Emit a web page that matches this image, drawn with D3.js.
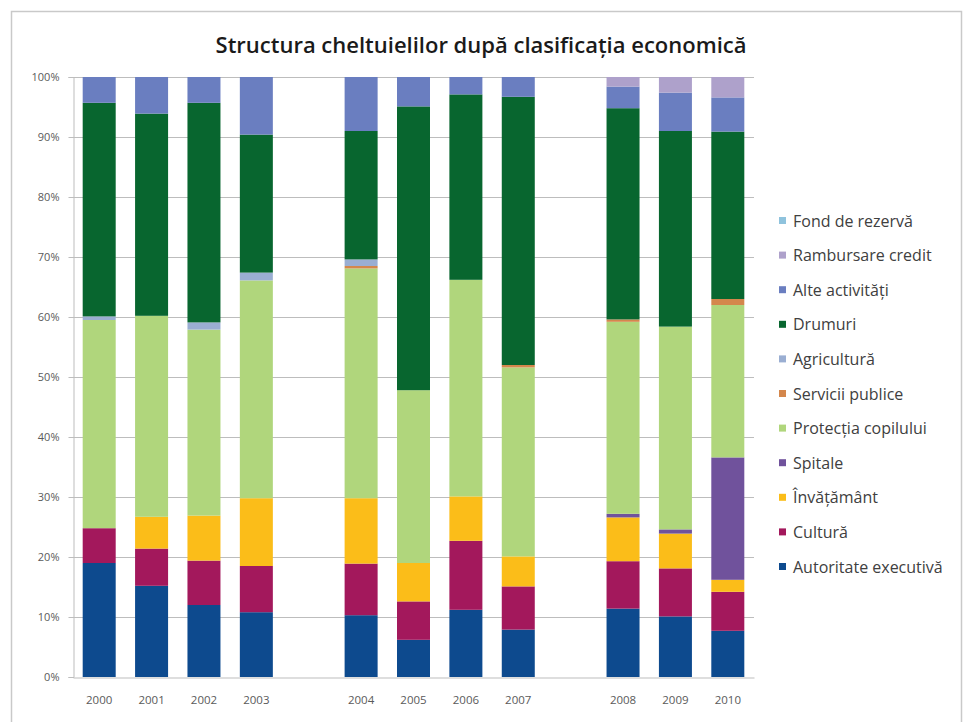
<!DOCTYPE html>
<html>
<head>
<meta charset="utf-8">
<script src="https://cdn.jsdelivr.net/npm/d3@7"></script>
<style>
  html, body { margin: 0; padding: 0; background: #fff; }
  svg { display: block; }
</style>
</head>
<body>
<svg id="chart" width="966" height="722"></svg>
<script>
const years = ["2000","2001","2002","2003","2004","2005","2006","2007","2008","2009","2010"];
const slots = ["2000","2001","2002","2003","gap1","2004","2005","2006","2007","gap2","2008","2009","2010"];
const seriesNames = ["Autoritate executivă","Cultură","Învățământ","Spitale","Protecția copilului","Servicii publice","Agricultură","Drumuri","Alte activități","Rambursare credit","Fond de rezervă"];
const seriesColors = ["#0d4a8e","#a3185c","#fbbd19","#70529c","#b0d67c","#d4874c","#9aaed2","#08662f","#6a7ec0","#aea1cb","#8fc3dd"];

const autoritate = [19.0, 15.2, 12.0, 10.8, 10.3, 6.2, 11.2, 7.9, 11.4, 10.1, 7.7];
const cultura    = [5.8, 6.2, 7.4, 7.7, 8.6, 6.4, 11.5, 7.2, 7.9, 8.0, 6.5];
const invatamant = [0, 5.3, 7.5, 11.3, 10.9, 6.4, 7.4, 5.0, 7.3, 5.8, 2.0];
const spitale    = [0, 0, 0, 0, 0, 0, 0, 0, 0.6, 0.7, 20.4];
const protectia  = [34.7, 33.5, 31.0, 36.3, 38.3, 28.8, 36.1, 31.5, 32.0, 33.8, 25.4];
const servicii   = [0, 0, 0, 0, 0.4, 0, 0, 0.4, 0.4, 0, 1.0];
const agricultura= [0.6, 0, 1.2, 1.3, 1.1, 0, 0, 0, 0, 0, 0];
const drumuri    = [35.6, 33.7, 36.6, 23.0, 21.4, 47.3, 30.9, 44.7, 35.2, 32.6, 27.9];
const alte       = [4.3, 6.1, 4.3, 9.6, 9.0, 4.9, 2.9, 3.3, 3.6, 6.4, 5.7];
const rambursare = [0, 0, 0, 0, 0, 0, 0, 0, 1.6, 2.6, 3.4];
const fond       = [0, 0, 0, 0, 0, 0, 0, 0, 0, 0, 0];
const yTicks = [0, 0.1, 0.2, 0.3, 0.4, 0.5, 0.6, 0.7, 0.8, 0.9, 1.0];

const seriesValues = [autoritate, cultura, invatamant, spitale, protectia, servicii, agricultura, drumuri, alte, rambursare, fond];
const rows = years.map((y, i) => {
  const r = { year: y };
  seriesNames.forEach((s, k) => r[s] = seriesValues[k][i]);
  return r;
});

const svg = d3.select("#chart");
// frame
svg.append("rect").attr("x", 11.5).attr("y", 11.5).attr("width", 950).attr("height", 720)
  .attr("fill", "#fff").attr("stroke", "#c9c9c9").attr("stroke-width", 1.5);

const margin = { left: 73, right: 754, top: 77, bottom: 677 };
const x = d3.scaleBand().domain(slots).range([margin.left, margin.right]).paddingInner(0.37).paddingOuter(0.185);
const y = d3.scaleLinear().domain([0, 1]).range([margin.bottom, margin.top]);

// gridlines
svg.append("g").selectAll("line").data(yTicks.slice(1)).join("line")
  .attr("x1", margin.left).attr("x2", margin.right)
  .attr("y1", d => y(d) + 0.5).attr("y2", d => y(d) + 0.5)
  .attr("stroke", "#bdbdbd").attr("stroke-width", 1);

const stack = d3.stack().keys(seriesNames).offset(d3.stackOffsetExpand);
const stacked = stack(rows);

svg.append("g").selectAll("g").data(stacked).join("g")
  .attr("fill", (d, i) => seriesColors[i])
  .selectAll("rect").data(d => d).join("rect")
  .attr("x", d => x(d.data.year))
  .attr("width", x.bandwidth())
  .attr("y", d => y(d[1]))
  .attr("height", d => Math.max(0, y(d[0]) - y(d[1])));

// y axis
const yAxis = d3.axisLeft(y).tickValues(yTicks).tickFormat(d3.format(".0%")).tickSize(5).tickPadding(9);
const gy = svg.append("g").attr("transform", `translate(${margin.left + 0.5},0)`).call(yAxis);
gy.select(".domain").attr("stroke", "#bdbdbd");
gy.selectAll(".tick line").attr("stroke", "#bdbdbd");
gy.selectAll("text").attr("fill", "#5a5a5a").style("font-family", "Open Sans, sans-serif").style("font-size", "11px");

// x axis
const xAxis = d3.axisBottom(x).tickValues(years).tickSize(0).tickPadding(18);
const gx = svg.append("g").attr("transform", `translate(0,${margin.bottom + 0.5})`).call(xAxis);
gx.select(".domain").attr("stroke", "#bdbdbd");
gx.selectAll("text").attr("fill", "#5a5a5a").style("font-family", "Open Sans, sans-serif").style("font-size", "11.5px");

// title
svg.append("text").attr("x", 481).attr("y", 53).attr("text-anchor", "middle")
  .style("font-family", "Open Sans, sans-serif").style("font-weight", "600").style("font-size", "22px")
  .attr("fill", "#1a1a1a").text("Structura cheltuielilor după clasificația economică");

// legend (top to bottom reversed order)
const legendItems = seriesNames.map((n, i) => ({ name: n, color: seriesColors[i] })).reverse();
const lg = svg.append("g").selectAll("g").data(legendItems).join("g")
  .attr("transform", (d, i) => `translate(779,${221 + i * 34.6})`);
lg.append("rect").attr("x", 0).attr("y", -4).attr("width", 7).attr("height", 7).attr("fill", d => d.color);
lg.append("text").attr("x", 14).attr("y", 0).attr("dy", "0.35em")
  .style("font-family", "Open Sans, sans-serif").style("font-size", "16px").attr("fill", "#404040")
  .text(d => d.name);
</script>
</body>
</html>
